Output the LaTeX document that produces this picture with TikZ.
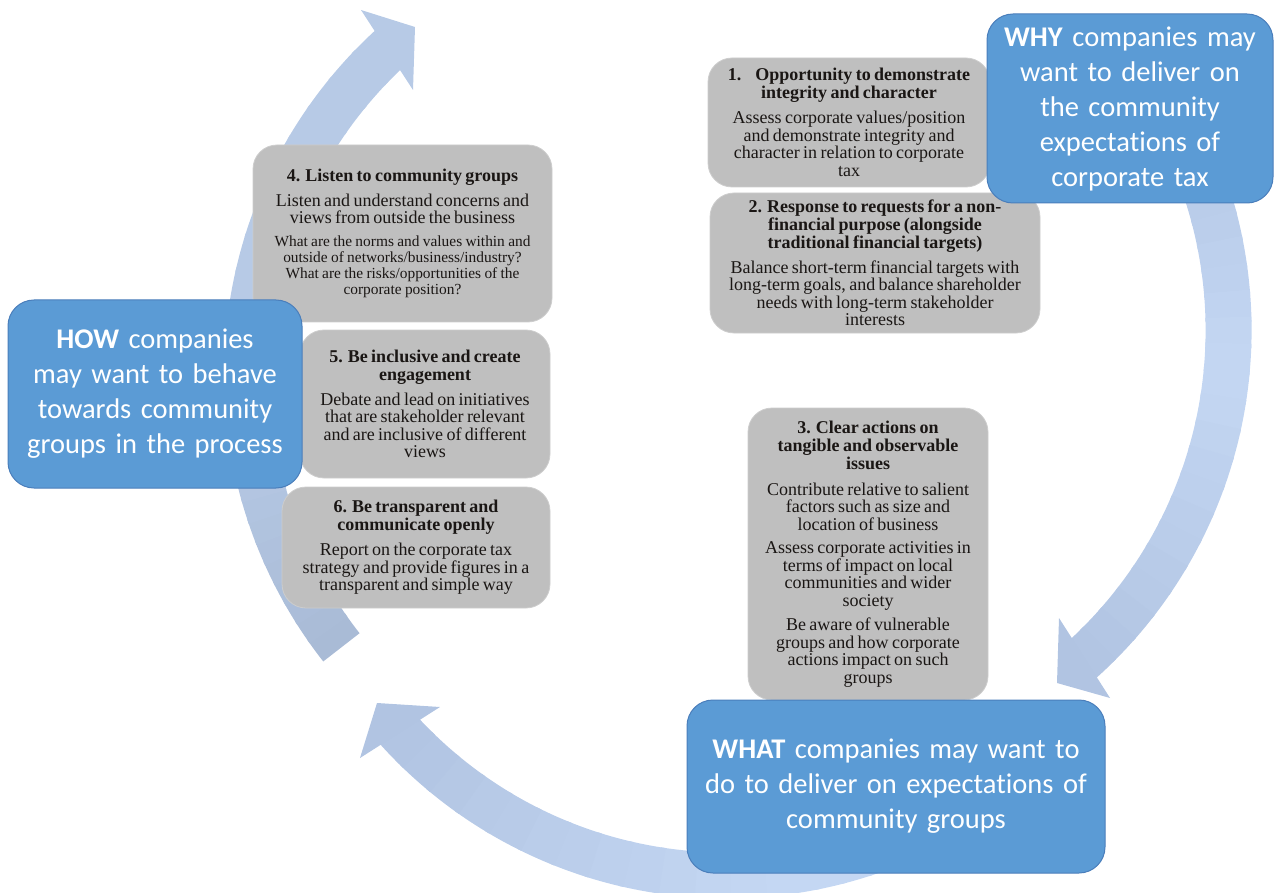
\documentclass[tikz,border=0pt]{standalone}
\usepackage{fontspec}
\setmainfont{Liberation Serif}
\newfontfamily\calibfont[Ligatures=NoCommon]{Carlito}
\definecolor{bluefill}{HTML}{5B9BD5}
\definecolor{blueline}{HTML}{4A7EBB}
\definecolor{grayfill}{HTML}{BFBFBF}
\definecolor{grayline}{HTML}{CDCDCD}
\definecolor{graytext}{HTML}{1A1614}
\definecolor{arrowcol}{HTML}{B7CAE6}
\definecolor{arrowdark}{HTML}{B1C4E2}
\definecolor{arrowlight}{HTML}{C4D7F3}
\definecolor{leftdark}{HTML}{A8BAD5}
\newcommand{\ttlf}{\fontsize{18}{18}\selectfont\bfseries}
\newcommand{\bdyf}{\fontsize{18}{17.5}\selectfont}
\newcommand{\smlf}{\fontsize{15.4}{16}\selectfont}
\newcommand{\bluf}{\calibfont\fontsize{28.5}{35}\selectfont}
% graded band along a circular arc: centre, radius, start, end, colour at start, colour at end
\newcommand{\gradarc}[6]{%
  \pgfmathsetmacro{\gstep}{(#4-#3)/12}%
  \foreach \i in {0,...,11}{%
    \pgfmathsetmacro{\ga}{#3+\i*\gstep}%
    \pgfmathsetmacro{\gb}{#3+(\i+1)*\gstep+0.6}%
    \pgfmathtruncatemacro{\gt}{100-(\i+0.5)*100/12}%
    \draw[band, draw=#5!\gt!#6] ([shift={(\ga:#2)}]#1) arc[start angle=\ga, end angle=\gb, radius=#2];
  }}
\tikzset{
  graybox/.style={draw=grayline, line width=0.8pt, fill=grayfill, rounded corners=24pt,
    align=center, text=graytext, inner sep=0pt},
  bluebox/.style={draw=blueline, line width=1pt, fill=bluefill, rounded corners=26pt,
    align=center, text=white, inner sep=0pt, font=\bluf},
  band/.style={line width=46pt, draw=arrowcol},
  headtri/.style={fill=arrowcol, draw=none},
}
\begin{document}
\begin{tikzpicture}[x=1pt,y=-1pt]
\useasboundingbox (0,0) rectangle (1277,893);
\clip (0,0) rectangle (1277,893);
% ---- cycle arrows ----
\coordinate (cL) at (690,374);
\coordinate (cR) at (784.6,330.2);
\coordinate (cB) at (726.5,432.5);
% left arrow (upwards)
\gradarc{cL}{443}{141.9}{175}{leftdark}{arrowcol}
\gradarc{cL}{443}{175}{227.9}{arrowcol}{arrowcol}
\coordinate (hL1) at (361,10);
\coordinate (hL2) at (415,27);
\coordinate (hL3) at (413,90);
\fill[headtri] (hL1) -- (hL2) -- (hL3) -- cycle;
% right arrow (downwards)
\gradarc{cR}{444}{-35}{5}{arrowdark}{arrowlight}
\gradarc{cR}{444}{5}{48.4}{arrowlight}{arrowdark}
\coordinate (hR1) at (1059,618);
\coordinate (hR2) at (1110,698);
\coordinate (hR3) at (1057,683);
\fill[headtri, fill=arrowdark] (hR1) -- (hR2) -- (hR3) -- cycle;
% bottom arrow (leftwards)
\gradarc{cB}{443}{45}{85}{arrowlight}{arrowlight}
\gradarc{cB}{443}{85}{138.4}{arrowlight}{arrowdark}
\coordinate (hB1) at (440,707);
\coordinate (hB2) at (360,758);
\coordinate (hB3) at (377,703);
\fill[headtri, fill=arrowdark] (hB1) -- (hB2) -- (hB3) -- cycle;
% ---- grey boxes ----
\node[graybox, minimum width=299pt, minimum height=177pt, text width=287pt] (listen) at (402.5,233.5)
 {{\ttlf 4. Listen to community groups\par}\vspace{7.5pt}%
  {\bdyf Listen and understand concerns and\\ views from outside the business\par}\vspace{7pt}%
  {\smlf What are the norms and values within and\\ outside of networks/business/industry?\\ What are the risks/opportunities of the\\ corporate position?\par}};
\node[graybox, minimum width=250pt, minimum height=148pt, text width=240pt] (inclusive) at (425,404)
 {{\ttlf 5. Be inclusive and create\\ engagement\par}\vspace{7pt}%
  {\bdyf Debate and lead on initiatives\\ that are stakeholder relevant\\ and are inclusive of different\\ views\par}};
\node[graybox, minimum width=268pt, minimum height=121pt, text width=258pt] (transparent) at (416,547.5)
 {{\ttlf 6. Be transparent and\\ communicate openly\par}\vspace{7.5pt}%
  {\bdyf Report on the corporate tax\\ strategy and provide figures in a\\ transparent and simple way\par}};
\node[graybox, minimum width=282pt, minimum height=129pt, text width=270pt] (integrity) at (849,122.5)
 {{\ttlf 1.\hspace{14pt}Opportunity to demonstrate\\ integrity and character\par}\vspace{7.5pt}%
  {\bdyf Assess corporate values/position\\ and demonstrate integrity and\\ character in relation to corporate\\ tax\par}};
\node[graybox, minimum width=330pt, minimum height=140pt, text width=320pt] (purpose) at (875,263)
 {{\ttlf 2. Response to requests for a non-\\ financial purpose (alongside\\ traditional financial targets)\par}\vspace{7.5pt}%
  {\bdyf Balance short-term financial targets with\\ long-term goals, and balance shareholder\\ needs with long-term stakeholder\\ interests\par}};
\node[graybox, minimum width=240pt, minimum height=292pt, text width=230pt] (actions) at (868,554)
 {{\ttlf 3. Clear actions on\\ tangible and observable\\ issues\par}\vspace{8pt}%
  {\bdyf Contribute relative to salient\\ factors such as size and\\ location of business\par}\vspace{6pt}%
  {\bdyf Assess corporate activities in\\ terms of impact on local\\ communities and wider\\ society\par}\vspace{7pt}%
  {\bdyf Be aware of vulnerable\\ groups and how corporate\\ actions impact on such\\ groups\par}};
% ---- blue boxes ----
\node[bluebox, minimum width=286pt, minimum height=189pt, text width=270pt] (why) at (1130,108.5)
 {\textbf{WHY} companies may\\ want to deliver on\\ the community\\ expectations of\\ corporate tax};
\node[bluebox, minimum width=294pt, minimum height=188pt, text width=280pt] (how) at (155,394)
 {\textbf{HOW} companies\\ may want to behave\\ towards community\\ groups in the process};
\node[bluebox, minimum width=418pt, minimum height=173pt, text width=400pt] (what) at (896,786.5)
 {\textbf{WHAT} companies may want to\\ do to deliver on expectations of\\ community groups};
\end{tikzpicture}
\end{document}
